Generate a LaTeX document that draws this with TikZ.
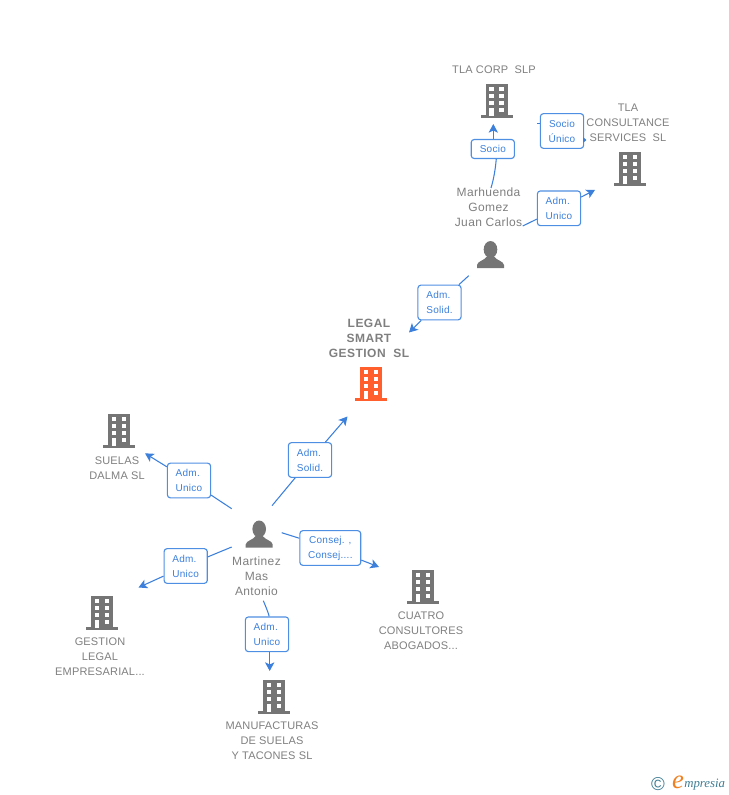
\documentclass[tikz,border=0pt]{standalone}
\usepackage{fontspec}
\setmainfont{Liberation Sans}
\newfontfamily\logofont{Liberation Serif}
\usetikzlibrary{arrows.meta}
\definecolor{linkblue}{HTML}{3C80DC}
\definecolor{boxblue}{HTML}{4F8FE3}
\definecolor{iconred}{HTML}{FF5E2D}
\definecolor{icongrey}{HTML}{757575}
\definecolor{textgrey}{HTML}{7F7F7F}
\definecolor{logoteal}{HTML}{3E7C92}
\definecolor{logoorange}{HTML}{F08020}
\tikzset{
  company/.style={text=textgrey, align=center, inner sep=0pt,
    font=\fontsize{8.25}{11.25}\selectfont\addfontfeatures{LetterSpace=1.5}},
  mainco/.style={company,
    font=\fontsize{9}{11.25}\selectfont\bfseries\addfontfeatures{LetterSpace=4}},
  person/.style={company,
    font=\fontsize{9}{11.25}\selectfont\addfontfeatures{LetterSpace=3}},
  role/.style={draw=boxblue, fill=white, line width=0.85pt, rounded corners=2.2pt,
    text=linkblue, align=center, inner sep=0pt, minimum height=26pt, minimum width=32.4pt,
    font=\fontsize{7.5}{11.25}\selectfont\addfontfeatures{LetterSpace=2.5}},
  adm/.style={role, align=left},
  link/.style={draw=linkblue, line width=0.8pt},
  tip/.style={link, -{Stealth[length=6.5pt, width=7pt, inset=1.6pt]}},
  stubtip/.style={link, -{Stealth[length=2.6pt, width=4pt, inset=0pt]}},
  building/.pic={
    % base, body, then the windows cut out in white
    \fill[pic actions] (-16,3) rectangle (16,0);
    \fill[pic actions] (-11,34) rectangle (11,1);
    \foreach \wy in {31,24,17} {
      \fill[white] (-7.3,\wy) rectangle (-2.7,\wy-4);
      \fill[white] (2.7,\wy) rectangle (7.3,\wy-4);
    }
    \fill[white] (-7.3,10) rectangle (-2.7,2);
    \fill[white] (2.7,10) rectangle (7.3,6);
  },
  human/.pic={
    % head and shoulders
    \fill[icongrey] (0,18.5) ellipse[x radius=6.8, y radius=8.5];
    \fill[icongrey] (-13.5,0) -- (-13.5,3) .. controls (-13,7) and (-6,7.5) .. (-3.5,11.5)
      -- (3.5,11.5) .. controls (6,7.5) and (13,7) .. (13.5,3) -- (13.5,0) -- cycle;
  }
}
\begin{document}
\begin{tikzpicture}[x=0.75pt, y=0.75pt]
  \useasboundingbox (0,0) rectangle (728,-795);

  % Companies
  \pic[icongrey] at (496.5,-118) {building};
  \node[company] (tlacorp) at (494,-70) {TLA CORP~~SLP};
  \pic[icongrey] at (630,-186) {building};
  \node[company] (tlacons) at (628,-123) {TLA\\CONSULTANCE\\SERVICES~~SL};
  \pic[iconred] at (371,-401) {building};
  \node[mainco] (legal) at (369,-338) {LEGAL\\SMART\\GESTION~~SL};
  \pic[icongrey] at (119,-448) {building};
  \node[company] (suelas) at (117,-468) {SUELAS\\DALMA SL};
  \pic[icongrey] at (102,-630) {building};
  \node[company] (gestion) at (100,-657) {GESTION\\LEGAL\\EMPRESARIAL...};
  \pic[icongrey] at (274,-714) {building};
  \node[company] (manuf) at (272,-741) {MANUFACTURAS\\DE SUELAS\\Y TACONES SL};
  \pic[icongrey] at (423,-604) {building};
  \node[company] (cuatro) at (421,-631) {CUATRO\\CONSULTORES\\ABOGADOS...};

  % People
  \pic at (490.5,-268) {human};
  \node[person] (marhuenda) at (488.5,-207) {Marhuenda\\Gomez\\Juan Carlos};
  \pic at (259.2,-547.5) {human};
  \node[person] (martinez) at (256.5,-576) {Martinez\\Mas\\Antonio};

  % Role boxes
  \node[role, minimum height=14.2pt] (rsocio) at (492.8,-149) {Socio};
  \node[role] (runico) at (562,-131) {Socio\\Único};
  \node[adm] (radmcons) at (559,-208.3) {Adm.\\Unico};
  \node[adm] (rsolid) at (439.5,-302.5) {Adm.\\Solid.};
  \node[adm] (rlegal) at (310,-460) {Adm.\\Solid.};
  \node[adm] (rsuelas) at (189,-480.5) {Adm.\\Unico};
  \node[adm] (rgestion) at (185.7,-566) {Adm.\\Unico};
  \node[role, minimum width=45.6pt] (rconsej) at (330.3,-548) {Consej. ,\\Consej....};
  \node[adm] (rmanuf) at (267,-634.3) {Adm.\\Unico};

  % Free ends of the links
  \coordinate (s1) at (491,-188);
  \coordinate (e1) at (493.3,-124);
  \coordinate (s2) at (537.3,-123.5);
  \coordinate (e2) at (586.5,-140);
  \coordinate (s3) at (522.7,-226);
  \coordinate (e3) at (595,-190);
  \coordinate (s4) at (468.7,-275.7);
  \coordinate (e4) at (409,-332.5);
  \coordinate (s5) at (272,-505.7);
  \coordinate (e5) at (347.5,-416.5);
  \coordinate (s6) at (231.7,-508.7);
  \coordinate (e6) at (145,-453.3);
  \coordinate (s7) at (231.7,-547);
  \coordinate (e7) at (138.5,-587.5);
  \coordinate (s8) at (281.7,-532.7);
  \coordinate (e8) at (379,-567);
  \coordinate (s9) at (263.3,-600.7);
  \coordinate (e9) at (269.7,-671);

  % Links
  \draw[link] (s1) .. controls (494,-178) and (495.5,-168) .. (rsocio.-71);
  \draw[tip] (rsocio.north -| e1) -- (e1);
  \draw[link] (s2) -- (runico.west |- s2);
  \draw[stubtip] (runico.east |- e2) -- (e2);
  \draw[link] (s3) -- (radmcons);
  \draw[tip] (radmcons) -- (e3);
  \draw[link] (s4) -- (rsolid);
  \draw[tip] (rsolid) -- (e4);
  \draw[link] (s5) -- (rlegal);
  \draw[tip] (rlegal) -- (e5);
  \draw[link] (s6) -- (rsuelas);
  \draw[tip] (rsuelas) -- (e6);
  \draw[link] (s7) -- (rgestion);
  \draw[tip] (rgestion) -- (e7);
  \draw[link] (s8) -- (rconsej);
  \draw[tip] (rconsej) -- (e8);
  \draw[link] (s9) .. controls (266,-607) and (268,-612) .. (rmanuf.83);
  \draw[tip] (rmanuf.south -| e9) -- (e9);

  % Logo
  \node[text=logoteal, inner sep=0pt, font=\fontsize{14}{14}\selectfont] (copyr) at (658,-784.5) {©};
  \node[text=logoorange, inner sep=0pt, font=\logofont\itshape\fontsize{20}{20}\selectfont] (logoe) at (678,-782) {e};
  \node[text=logoteal, inner sep=0pt, anchor=west, font=\logofont\itshape\fontsize{9.6}{10}\selectfont] (logotext) at (684,-784.5) {mpresia};
\end{tikzpicture}
\end{document}
